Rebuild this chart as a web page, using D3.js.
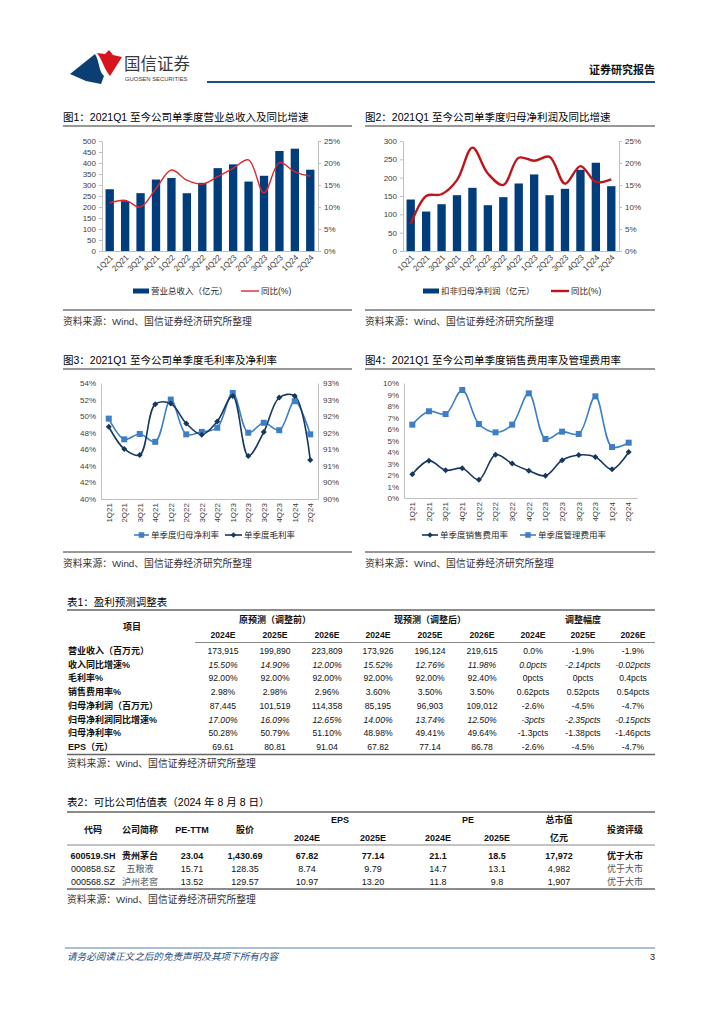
<!DOCTYPE html>
<html lang="zh">
<head>
<meta charset="UTF-8">
<title>国信证券 证券研究报告 p3</title>
<style>
  body { margin: 0; background: #fff; }
  svg text { font-family: "Liberation Sans", Arial, "Noto Sans CJK SC", sans-serif; }
</style>
</head>
<body>
<div id="page"></div>
<script src="https://cdn.jsdelivr.net/npm/d3@7"></script>
<script>
// ---- data ----
const quarters = ["1Q21","2Q21","3Q21","4Q21","1Q22","2Q22","3Q22","4Q22","1Q23","2Q23","3Q23","4Q23","1Q24","2Q24"];

// fig 1: revenue (100m yuan) and yoy %
const revenue    = [280.6, 226.5, 262.9, 324.8, 331.9, 262.5, 310.0, 376.6, 393.8, 315.6, 341.9, 454.6, 465.1, 369.4];
const revenueYoy = [10.9, 11.5, 10.0, 14.2, 18.4, 16.1, 15.2, 16.9, 18.8, 20.7, 13.2, 20.1, 18.0, 17.0];

// fig 2: net profit excl. non-recurring (100m yuan) and yoy %
const netProfit    = [140.4, 107.6, 127.6, 152.2, 172.3, 124.9, 146.8, 184.1, 208.8, 152.2, 169.6, 221.5, 240.7, 176.8];
const netProfitYoy = [6.1, 12.5, 12.9, 16.1, 23.5, 17.6, 15.0, 21.2, 20.5, 21.4, 15.3, 19.3, 15.7, 16.3];

// fig 3: net margin (left axis) and gross margin (right axis), %
const netMargin   = [49.7, 47.2, 47.85, 46.9, 52.0, 47.8, 48.1, 48.6, 52.8, 48.0, 49.2, 48.3, 51.8, 47.8];
const grossMargin = [91.68, 91.01, 90.83, 92.36, 92.38, 91.78, 91.44, 91.84, 92.61, 90.80, 91.52, 92.56, 92.61, 90.68];

// fig 4: sales expense rate and admin expense rate, %
const salesRate = [2.06, 3.25, 2.41, 2.58, 1.59, 3.77, 2.99, 2.38, 1.94, 3.28, 3.74, 3.57, 2.49, 4.0];
const adminRate = [6.38, 7.54, 7.30, 9.39, 6.43, 5.71, 6.38, 9.10, 5.13, 5.77, 5.57, 8.84, 4.43, 4.81];

// tick values / labels
const fig1LeftTicks  = [0, 50, 100, 150, 200, 250, 300, 350, 400, 450, 500];
const fig2LeftTicks  = [0, 50, 100, 150, 200, 250, 300];
const pctTicks25     = [0, 5, 10, 15, 20, 25];
const fig3LeftTicks  = [40, 42, 44, 46, 48, 50, 52, 54];
const fig3RightTicks = [89.5, 90, 90.5, 91, 91.5, 92, 92.5, 93];
const fig3RightLabels = ["90%", "90%", "91%", "91%", "92%", "92%", "93%", "93%"];
const fig4Ticks      = [0, 1, 2, 3, 4, 5, 6, 7, 8, 9, 10];

// table 1
const t1Items = ["营业收入（百万元）","收入同比增速%","毛利率%","销售费用率%","归母净利润（百万元）","归母净利润同比增速%","归母净利率%","EPS（元）"];
const t1Years = ["2024E","2025E","2026E"];
const t1Before = [
  ["173,915","199,890","223,809"], ["15.50%","14.90%","12.00%"], ["92.00%","92.00%","92.00%"], ["2.98%","2.98%","2.96%"],
  ["87,445","101,519","114,358"], ["17.00%","16.09%","12.65%"], ["50.28%","50.79%","51.10%"], ["69.61","80.81","91.04"]];
const t1After = [
  ["173,926","196,124","219,615"], ["15.52%","12.76%","11.98%"], ["92.00%","92.00%","92.40%"], ["3.60%","3.50%","3.50%"],
  ["85,195","96,903","109,012"], ["14.00%","13.74%","12.50%"], ["48.98%","49.41%","49.64%"], ["67.82","77.14","86.78"]];
const t1Change = [
  ["0.0%","-1.9%","-1.9%"], ["0.0pcts","-2.14pcts","-0.02pcts"], ["0pcts","0pcts","0.4pcts"], ["0.62pcts","0.52pcts","0.54pcts"],
  ["-2.6%","-4.5%","-4.7%"], ["-3pcts","-2.35pcts","-0.15pcts"], ["-1.3pcts","-1.38pcts","-1.46pcts"], ["-2.6%","-4.5%","-4.7%"]];
const t1ItalicRows = [1, 5];

// table 2
const t2Codes  = ["600519.SH","000858.SZ","000568.SZ"];
const t2Names  = ["贵州茅台","五粮液","泸州老窖"];
const t2PeTtm  = ["23.04","15.71","13.52"];
const t2Price  = ["1,430.69","128.35","129.57"];
const t2Eps24  = ["67.82","8.74","10.97"];
const t2Eps25  = ["77.14","9.79","13.20"];
const t2Pe24   = ["21.1","14.7","11.8"];
const t2Pe25   = ["18.5","13.1","9.8"];
const t2Mcap   = ["17,972","4,982","1,907"];
const t2Rating = ["优于大市","优于大市","优于大市"];

// ---- colours ----
const navy = "#003d7a";
const darkLine = "#17375e";
const lightBlue = "#3d7fc6";
const axisGrey = "#bfbfbf";
const txt = "#262626";

const svg = d3.select("#page").append("svg").attr("width", 724).attr("height", 1024);

// ---- page header ----
const hdr = svg.append("g");
hdr.append("path").attr("d", "M70,74 L95,54 C100,62 98,70 104,76 L101,84 L86,81 Z").attr("fill", "#0b3f74");
hdr.append("path").attr("d", "M97,53 L105,54 L109,50 L113,55 L122,57 L110,76 C104,69 103,61 97,53 Z").attr("fill", "#d7151f");
hdr.append("text").attr("x", 124).attr("y", 70).attr("font-size", 16.5).attr("fill", "#3a3a3a").text("国信证券");
hdr.append("text").attr("x", 125).attr("y", 80.5).attr("font-size", 5.9).attr("fill", "#3a3a3a").text("GUOSEN SECURITIES");
hdr.append("line").attr("x1", 207).attr("x2", 655).attr("y1", 82).attr("y2", 82).attr("stroke", "#1f4e80").attr("stroke-width", 2.2);
hdr.append("text").attr("x", 655).attr("y", 74).attr("text-anchor", "end").attr("font-size", 11).attr("font-weight", "bold").attr("fill", "#111").text("证券研究报告");

// ---- helpers ----
function frame(x0, x1, titleY, bottomY, title) {
  svg.append("text").attr("x", x0).attr("y", titleY + 4).attr("font-size", 10.5).attr("fill", "#000").text(title);
  svg.append("line").attr("x1", x0).attr("x2", x1).attr("y1", titleY + 9).attr("y2", titleY + 9).attr("stroke", "#333").attr("stroke-width", 1.2);
  svg.append("line").attr("x1", x0).attr("x2", x1).attr("y1", bottomY).attr("y2", bottomY).attr("stroke", "#333").attr("stroke-width", 1.2);
  source(x0, bottomY + 15);
}
function source(x, y) {
  svg.append("text").attr("x", x).attr("y", y).attr("font-size", 9.8).attr("fill", "#333").text("资料来源：Wind、国信证券经济研究所整理");
}
function styleAxis(g) {
  g.select(".domain").attr("stroke", axisGrey);
  g.selectAll(".tick line").attr("stroke", axisGrey);
  g.selectAll(".tick text").attr("fill", "#404040").attr("font-size", 8);
}
function bottomAxis(g, x, y1, angle) {
  const ax = g.append("g").attr("transform", `translate(0,${y1})`)
    .call(d3.axisBottom(x).tickSize(0).tickSizeOuter(0));
  styleAxis(ax);
  ax.selectAll(".tick text").attr("x", 0).attr("y", 0).attr("dy", "0.35em")
    .attr("text-anchor", "end")
    .attr("transform", angle === -45 ? "translate(2,5) rotate(-45)" : "translate(0,4) rotate(-90)");
}
function square(g, cx, cy, s, color) {
  g.append("rect").attr("x", cx - s / 2).attr("y", cy - s / 2).attr("width", s).attr("height", s).attr("fill", color);
}
function diamond(g, cx, cy, s, color) {
  g.append("path").attr("d", `M${cx},${cy - s} L${cx + s},${cy} L${cx},${cy + s} L${cx - s},${cy} Z`).attr("fill", color);
}

// ---- bar + line charts (fig 1, fig 2) ----
function barLine(o) {
  const g = svg.append("g");
  const x = d3.scaleBand().domain(quarters).range([o.x0, o.x1]).paddingInner(0.46).paddingOuter(0.23);
  const yL = d3.scaleLinear().domain([0, o.leftMax]).range([o.y1, o.y0]);
  const yR = d3.scaleLinear().domain([0, 25]).range([o.y1, o.y0]);

  g.selectAll("rect.bar").data(o.bars).join("rect").attr("class", "bar")
    .attr("x", (d, i) => x(quarters[i])).attr("y", d => yL(d))
    .attr("width", x.bandwidth()).attr("height", d => yL(0) - yL(d)).attr("fill", navy);

  const line = d3.line().x((d, i) => x(quarters[i]) + x.bandwidth() / 2).y(d => yR(d)).curve(d3.curveCatmullRom);
  g.append("path").datum(o.line).attr("d", line).attr("fill", "none")
    .attr("stroke", o.lineColor).attr("stroke-width", o.lineWidth);

  const la = g.append("g").attr("transform", `translate(${o.x0},0)`)
    .call(d3.axisLeft(yL).tickValues(o.leftTicks).tickSize(3).tickSizeOuter(0).tickPadding(3));
  styleAxis(la);
  const ra = g.append("g").attr("transform", `translate(${o.x1},0)`)
    .call(d3.axisRight(yR).tickValues(pctTicks25).tickSize(3).tickSizeOuter(0).tickPadding(3).tickFormat(d => d + "%"));
  styleAxis(ra);
  bottomAxis(g, x, o.y1, -45);

  // legend
  const lg = g.append("g");
  lg.append("rect").attr("x", o.leg[0]).attr("y", o.legY - 2.5).attr("width", 16).attr("height", 5).attr("fill", navy);
  lg.append("text").attr("x", o.leg[0] + 18).attr("y", o.legY).attr("dy", "0.35em").attr("font-size", 8.5).attr("fill", txt).text(o.barName);
  lg.append("line").attr("x1", o.leg[1]).attr("x2", o.leg[1] + 18).attr("y1", o.legY).attr("y2", o.legY)
    .attr("stroke", o.lineColor).attr("stroke-width", o.lineWidth);
  lg.append("text").attr("x", o.leg[1] + 20).attr("y", o.legY).attr("dy", "0.35em").attr("font-size", 8.5).attr("fill", txt).text("同比(%)");
}

frame(63, 352, 117, 310, "图1：2021Q1 至今公司单季度营业总收入及同比增速");
barLine({ x0: 102, x1: 318, y0: 141, y1: 251, leftMax: 500, leftTicks: fig1LeftTicks,
  bars: revenue, line: revenueYoy, lineColor: "#e0262c", lineWidth: 1.4,
  legY: 291, leg: [133, 241], barName: "营业总收入（亿元）" });

frame(365, 655, 117, 310, "图2：2021Q1 至今公司单季度归母净利润及同比增速");
barLine({ x0: 403, x1: 619, y0: 141, y1: 251, leftMax: 300, leftTicks: fig2LeftTicks,
  bars: netProfit, line: netProfitYoy, lineColor: "#c0141b", lineWidth: 2.4,
  legY: 291, leg: [423, 551], barName: "扣非归母净利润（亿元）" });

// ---- fig 3: margins ----
frame(63, 352, 360, 552, "图3：2021Q1 至今公司单季度毛利率及净利率");
{
  const g = svg.append("g");
  const x = d3.scalePoint().domain(quarters).range([101, 318]).padding(0.5);
  const yL = d3.scaleLinear().domain([40, 54]).range([499, 383]);
  const yR = d3.scaleLinear().domain([89.5, 93]).range([499, 383]);
  const la = g.append("g").attr("transform", "translate(101,0)")
    .call(d3.axisLeft(yL).tickValues(fig3LeftTicks).tickSize(0).tickPadding(5).tickFormat(d => d + "%"));
  styleAxis(la);
  const ra = g.append("g").attr("transform", "translate(318,0)")
    .call(d3.axisRight(yR).tickValues(fig3RightTicks).tickSize(0).tickPadding(5).tickFormat((d, i) => fig3RightLabels[i]));
  styleAxis(ra);
  const xb = d3.scaleBand().domain(quarters).range([101, 318]);
  bottomAxis(g, xb, 499, -90);

  const lineL = d3.line().x((d, i) => x(quarters[i])).y(d => yL(d)).curve(d3.curveCatmullRom);
  const lineR = d3.line().x((d, i) => x(quarters[i])).y(d => yR(d)).curve(d3.curveCatmullRom);
  g.append("path").datum(netMargin).attr("d", lineL).attr("fill", "none").attr("stroke", lightBlue).attr("stroke-width", 1.6);
  g.append("path").datum(grossMargin).attr("d", lineR).attr("fill", "none").attr("stroke", darkLine).attr("stroke-width", 1.6);
  netMargin.forEach((d, i) => square(g, x(quarters[i]), yL(d), 6, lightBlue));
  grossMargin.forEach((d, i) => diamond(g, x(quarters[i]), yR(d), 3, darkLine));

  const ly = 535;
  g.append("line").attr("x1", 134).attr("x2", 149).attr("y1", ly).attr("y2", ly).attr("stroke", lightBlue).attr("stroke-width", 1.6);
  square(g, 141.5, ly, 5.5, lightBlue);
  g.append("text").attr("x", 151).attr("y", ly).attr("dy", "0.35em").attr("font-size", 8.5).attr("fill", txt).text("单季度归母净利率");
  g.append("line").attr("x1", 225).attr("x2", 242).attr("y1", ly).attr("y2", ly).attr("stroke", darkLine).attr("stroke-width", 1.6);
  diamond(g, 233.5, ly, 2.8, darkLine);
  g.append("text").attr("x", 244).attr("y", ly).attr("dy", "0.35em").attr("font-size", 8.5).attr("fill", txt).text("单季度毛利率");
}

// ---- fig 4: expense rates ----
frame(365, 655, 360, 552, "图4：2021Q1 至今公司单季度销售费用率及管理费用率");
{
  const g = svg.append("g");
  const x = d3.scalePoint().domain(quarters).range([404, 637]).padding(0.5);
  const y = d3.scaleLinear().domain([0, 10]).range([498, 383]);
  const la = g.append("g").attr("transform", "translate(404,0)")
    .call(d3.axisLeft(y).tickValues(fig4Ticks).tickSize(0).tickPadding(5).tickFormat(d => d + "%"));
  styleAxis(la);
  const xb = d3.scaleBand().domain(quarters).range([404, 637]);
  bottomAxis(g, xb, 498, -90);

  const line = d3.line().x((d, i) => x(quarters[i])).y(d => y(d)).curve(d3.curveCatmullRom);
  g.append("path").datum(adminRate).attr("d", line).attr("fill", "none").attr("stroke", lightBlue).attr("stroke-width", 1.6);
  g.append("path").datum(salesRate).attr("d", line).attr("fill", "none").attr("stroke", darkLine).attr("stroke-width", 1.6);
  adminRate.forEach((d, i) => square(g, x(quarters[i]), y(d), 6, lightBlue));
  salesRate.forEach((d, i) => diamond(g, x(quarters[i]), y(d), 3, darkLine));

  const ly = 535;
  g.append("line").attr("x1", 422).attr("x2", 438).attr("y1", ly).attr("y2", ly).attr("stroke", darkLine).attr("stroke-width", 1.6);
  diamond(g, 430, ly, 2.8, darkLine);
  g.append("text").attr("x", 440).attr("y", ly).attr("dy", "0.35em").attr("font-size", 8.5).attr("fill", txt).text("单季度销售费用率");
  g.append("line").attr("x1", 520).attr("x2", 536).attr("y1", ly).attr("y2", ly).attr("stroke", lightBlue).attr("stroke-width", 1.6);
  square(g, 528, ly, 5.5, lightBlue);
  g.append("text").attr("x", 538).attr("y", ly).attr("dy", "0.35em").attr("font-size", 8.5).attr("fill", txt).text("单季度管理费用率");
}

// ---- table 1 ----
function cell(x, y, s, o = {}) {
  svg.append("text").attr("x", x).attr("y", y).attr("dy", "0.35em")
    .attr("text-anchor", o.anchor || "middle").attr("font-size", o.size || 8.6)
    .attr("font-weight", o.bold ? "bold" : null).attr("font-style", o.italic ? "italic" : null)
    .attr("fill", o.fill || "#111").text(s);
}
function rule(x0, x1, y, w, c) {
  svg.append("line").attr("x1", x0).attr("x2", x1).attr("y1", y).attr("y2", y).attr("stroke", c || "#666").attr("stroke-width", w);
}
{
  svg.append("text").attr("x", 67).attr("y", 606).attr("font-size", 10.5).attr("fill", "#000").text("表1：盈利预测调整表");
  rule(67, 655, 610, 1.6, "#666");
  const cols = [223, 275, 327, 378, 430, 482, 533, 583, 633];
  cell(132, 627, "项目", { bold: true, size: 9 });
  cell(275, 620, "原预测（调整前）", { bold: true, size: 9 });
  cell(430, 620, "现预测（调整后）", { bold: true, size: 9 });
  cell(583, 620, "调整幅度", { bold: true, size: 9 });
  cols.forEach((cx, j) => cell(cx, 635, t1Years[j % 3], { bold: true }));
  rule(195, 655, 642.5, 1.2, "#888");
  const rowY = [651, 664.5, 678, 692, 706, 719.5, 733, 747];
  t1Items.forEach((name, i) => {
    const it = t1ItalicRows.includes(i);
    cell(68, rowY[i], name, { anchor: "start", bold: true, size: 9 });
    const vals = t1Before[i].concat(t1After[i], t1Change[i]);
    vals.forEach((v, j) => cell(cols[j], rowY[i], v, { italic: it }));
  });
  rule(67, 655, 754.5, 1.6, "#666");
  source(67, 767);
}

// ---- table 2 ----
{
  svg.append("text").attr("x", 67).attr("y", 806).attr("font-size", 10.5).attr("fill", "#000").text("表2：可比公司估值表（2024 年 8 月 8 日）");
  rule(67, 655, 812, 1.6, "#666");
  const cols = [93, 140, 192, 245, 307, 373, 438, 497, 559, 625];
  const hb = { bold: true, size: 9 };
  cell(cols[0], 830, "代码", hb);
  cell(cols[1], 830, "公司简称", hb);
  cell(cols[2], 830, "PE-TTM", hb);
  cell(cols[3], 830, "股价", hb);
  cell(340, 820, "EPS", hb);
  cell(468, 820, "PE", hb);
  cell(cols[8], 820, "总市值", hb);
  cell(cols[4], 838, "2024E", hb);
  cell(cols[5], 838, "2025E", hb);
  cell(cols[6], 838, "2024E", hb);
  cell(cols[7], 838, "2025E", hb);
  cell(cols[8], 838, "亿元", hb);
  cell(cols[9], 830, "投资评级", hb);
  rule(67, 655, 845, 1.2, "#888");
  const rowY = [856, 869, 882];
  t2Codes.forEach((c, i) => {
    const row = [c, t2Names[i], t2PeTtm[i], t2Price[i], t2Eps24[i], t2Eps25[i], t2Pe24[i], t2Pe25[i], t2Mcap[i], t2Rating[i]];
    row.forEach((v, j) => {
      const cjk = j === 1 || j === 9;
      cell(cols[j], rowY[i], v, { bold: i === 0, size: 9, fill: cjk && i > 0 ? "#555" : "#111" });
    });
  });
  rule(67, 655, 889, 1.6, "#666");
  source(67, 903);
}

// ---- footer ----
rule(65, 655, 948, 1, "#5a7fa3");
svg.append("text").attr("x", 67).attr("y", 960).attr("font-size", 9.6).attr("font-style", "italic").attr("fill", "#1f4e80")
  .text("请务必阅读正文之后的免责声明及其项下所有内容");
svg.append("text").attr("x", 655).attr("y", 960).attr("text-anchor", "end").attr("font-size", 9).attr("fill", "#111").text("3");
</script>
</body>
</html>
